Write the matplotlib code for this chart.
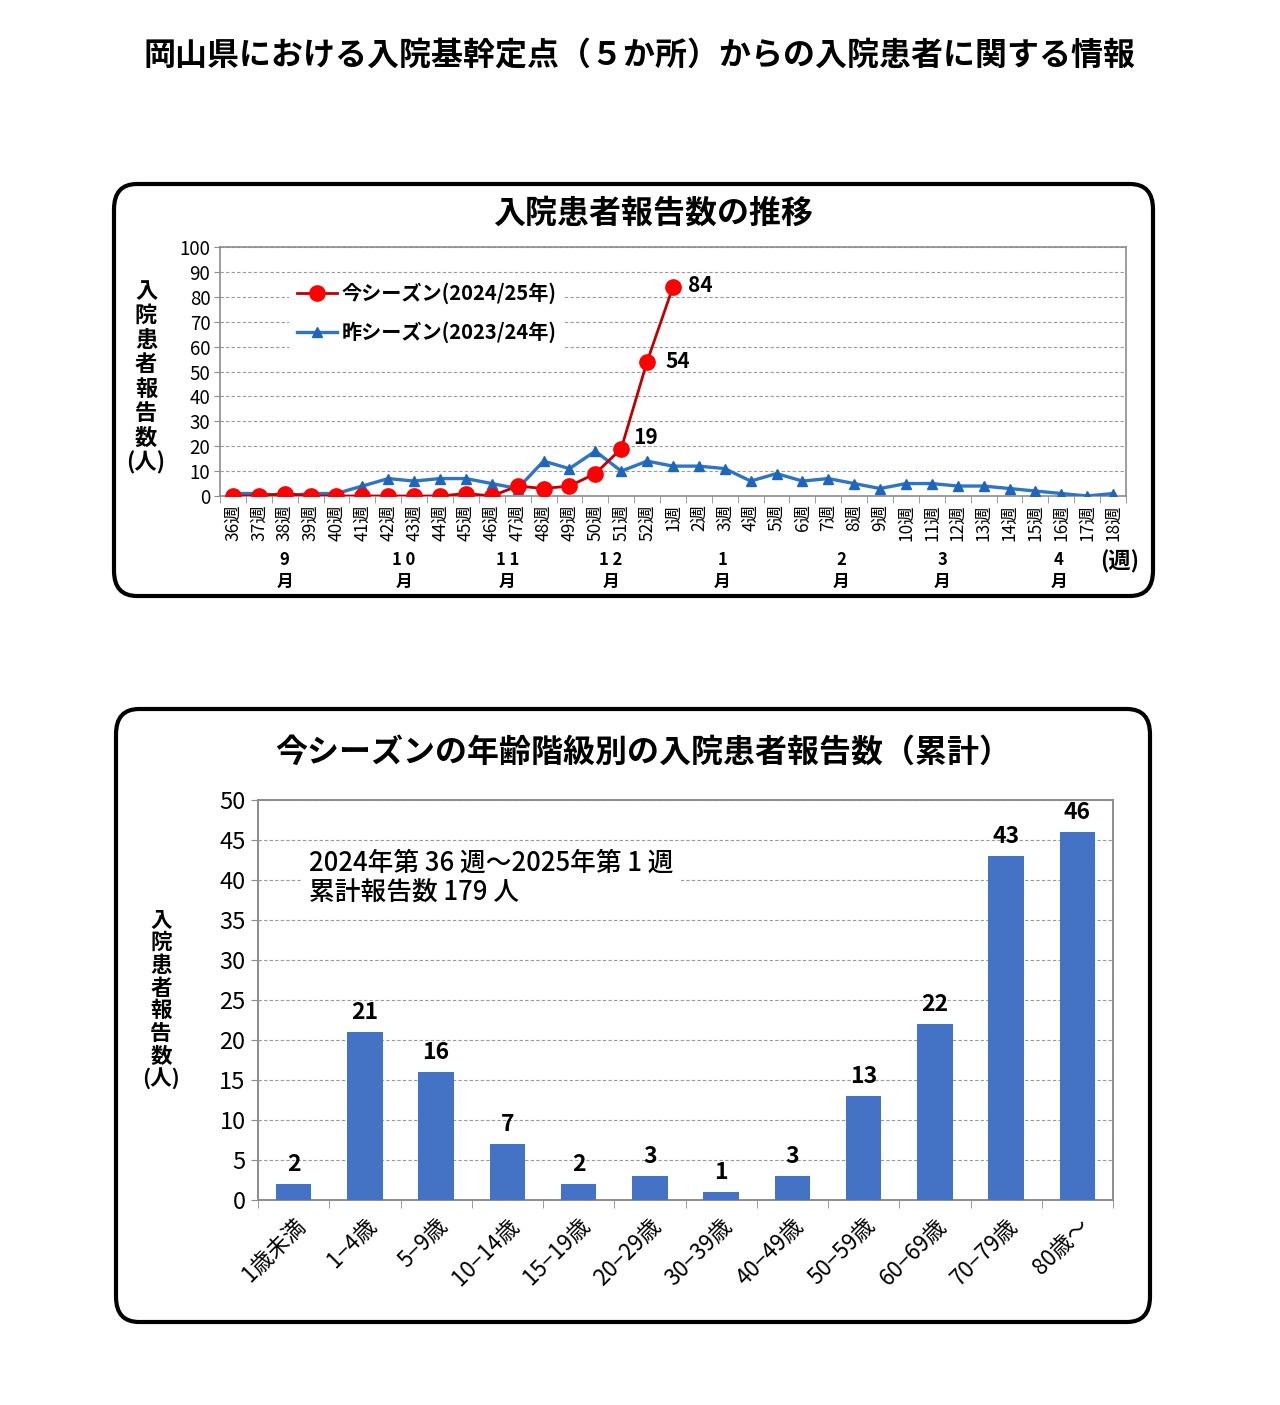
import matplotlib
matplotlib.use("Agg")
import matplotlib.pyplot as plt
from matplotlib.patches import FancyBboxPatch
from matplotlib.transforms import blended_transform_factory
import numpy as np

plt.rcParams['font.family'] = ['Noto Sans CJK JP', 'DejaVu Sans']

# ---------------- data ----------------
weeks = ["36週", "37週", "38週", "39週", "40週", "41週", "42週", "43週", "44週", "45週",
         "46週", "47週", "48週", "49週", "50週", "51週", "52週", "1週", "2週", "3週",
         "4週", "5週", "6週", "7週", "8週", "9週", "10週", "11週", "12週", "13週",
         "14週", "15週", "16週", "17週", "18週"]
current_season = [0, 0, 1, 0, 0, 0, 0, 0, 0, 1, 0, 4, 3, 4, 9, 19, 54, 84]
previous_season = [1, 1, 0, 1, 1, 4, 7, 6, 7, 7, 5, 3, 14, 11, 18, 10, 14, 12, 12, 11,
                   6, 9, 6, 7, 5, 3, 5, 5, 4, 4, 3, 2, 1, 0, 1]
labelled_points = ["51週", "52週", "1週"]
months = ["9\n月", "1 0\n月", "1 1\n月", "1 2\n月", "1\n月", "2\n月", "3\n月", "4\n月"]
month_pos = [2.0, 6.6, 10.6, 14.6, 18.9, 23.5, 27.4, 31.9]

age_groups = ["1歳未満", "1−4歳", "5−9歳", "10−14歳", "15−19歳", "20−29歳",
              "30−39歳", "40−49歳", "50−59歳", "60−69歳", "70−79歳", "80歳～"]
age_counts = [2, 21, 16, 7, 2, 3, 1, 3, 13, 22, 43, 46]

# label offsets (points) for annotated values
label_offsets = [(9, 8), (13, 0), (11, 1)]

W, H = 1280, 1405
fig = plt.figure(figsize=(W / 100, H / 100), dpi=100)
fig.patch.set_facecolor("white")


def rect(x0, y0, x1, y1):
    return [x0 / W, 1 - y1 / H, (x1 - x0) / W, (y1 - y0) / H]


def fx(x):
    return x / W


def fy(y):
    return 1 - y / H


# main title
fig.text(fx(640), fy(56), "岡山県における入院基幹定点（５か所）からの入院患者に関する情報",
         ha="center", va="center", fontsize=23, fontweight="bold")

# rounded boxes
for (x0, y0, x1, y1) in [(114, 184, 1153, 596), (116, 709, 1150, 1322)]:
    box = FancyBboxPatch((fx(x0), fy(y1)), fx(x1) - fx(x0), fy(y0) - fy(y1),
                         boxstyle="round,pad=0,rounding_size=0.018",
                         transform=fig.transFigure, facecolor="white",
                         edgecolor="black", linewidth=3, zorder=-10)
    fig.patches.append(box)

GRID = "#9a9a9a"
SPINE = "#8c8c8c"

# ---------------- top chart ----------------
fig.text(fx(653), fy(214), "入院患者報告数の推移", ha="center", va="center",
         fontsize=23, fontweight="bold")

ax1 = fig.add_axes(rect(220, 247, 1126, 496))
ax1.patch.set_alpha(0)
x_all = np.arange(len(weeks))
x_cur = np.arange(len(current_season))
ax1.plot(x_all, previous_season, color="#2E75C8", lw=2.4, marker="^", ms=7.5,
         markeredgecolor="#1F66BA", markerfacecolor="#1F66BA", zorder=3,
         label="昨シーズン(2023/24年)")
ax1.plot(x_cur, current_season, color="#C00000", lw=2.0, marker="o", ms=11,
         markeredgecolor="#FF0000", markerfacecolor="#FF0000", zorder=4,
         label="今シーズン(2024/25年)")
for w, off in zip(labelled_points, label_offsets):
    i = weeks.index(w)
    ax1.annotate(str(current_season[i]), (i, current_season[i]), xytext=off,
                 textcoords="offset points", ha="left", va="center",
                 fontsize=15, fontweight="bold")

ax1.set_xlim(-0.5, len(weeks) - 0.5)
ax1.set_ylim(0, 100)
ax1.set_yticks(np.arange(0, 101, 10))
ax1.tick_params(axis="y", labelsize=13.5, length=4, color=SPINE, pad=3)
ax1.set_xticks(x_all)
ax1.set_xticklabels(weeks, rotation=90, fontsize=12.5)
ax1.tick_params(axis="x", which="major", length=0, pad=6)
ax1.set_xticks(np.arange(-0.5, len(weeks), 1), minor=True)
ax1.tick_params(axis="x", which="minor", length=5, color=SPINE)
ax1.yaxis.grid(True, linestyle=(0, (3, 2)), color=GRID, lw=0.8)
ax1.set_axisbelow(True)
for s in ax1.spines.values():
    s.set_color(SPINE)
    s.set_linewidth(1.2)

handles, labels = ax1.get_legend_handles_labels()
leg = ax1.legend(handles[::-1], labels[::-1], loc="upper left",
                 bbox_to_anchor=(0.065, 0.93), frameon=True, fancybox=False,
                 facecolor="white", edgecolor="none", framealpha=1,
                 fontsize=14.5, labelspacing=0.85, handlelength=2.0,
                 handletextpad=0.2, borderpad=0.4)
for t in leg.get_texts():
    t.set_fontweight("bold")

trans = blended_transform_factory(ax1.transData, fig.transFigure)
for m, p in zip(months, month_pos):
    ax1.text(p, fy(571), m, transform=trans, ha="center", va="center",
             fontsize=12, fontweight="bold", linespacing=1.3)
fig.text(fx(1120), fy(562), "(週)", ha="center", va="center", fontsize=16,
         fontweight="bold")
fig.text(fx(146), fy(377), "\n".join("入院患者報告数") + "\n(人)", ha="center",
         va="center", fontsize=16, fontweight="bold", linespacing=1.08)

# ---------------- bottom chart ----------------
fig.text(fx(643), fy(753), "今シーズンの年齢階級別の入院患者報告数（累計）",
         ha="center", va="center", fontsize=23, fontweight="bold")

ax2 = fig.add_axes(rect(258, 800, 1113, 1200))
ax2.patch.set_alpha(0)
xb = np.arange(len(age_groups))
ax2.bar(xb, age_counts, width=0.5, color="#4472C4", zorder=3)
for i, v in enumerate(age_counts):
    ax2.text(i, v + 1.0, str(v), ha="center", va="bottom", fontsize=16.5,
             fontweight="bold")
ax2.set_xlim(-0.5, len(age_groups) - 0.5)
ax2.set_ylim(0, 50)
ax2.set_yticks(np.arange(0, 51, 5))
ax2.tick_params(axis="y", labelsize=17, length=5, color=SPINE, pad=4)
ax2.set_xticks(xb)
ax2.set_xticklabels(age_groups, rotation=45, ha="right", rotation_mode="anchor",
                    fontsize=16)
ax2.tick_params(axis="x", which="major", length=0, pad=10)
ax2.set_xticks(np.arange(-0.5, len(age_groups), 1), minor=True)
ax2.tick_params(axis="x", which="minor", length=6, color=SPINE)
ax2.yaxis.grid(True, linestyle=(0, (3, 2)), color=GRID, lw=0.8)
ax2.set_axisbelow(True)
for s in ax2.spines.values():
    s.set_color(SPINE)
    s.set_linewidth(1.4)

ax2.text(0.06, 0.875, "2024年第 36 週～2025年第 1 週\n累計報告数 179 人",
         transform=ax2.transAxes, ha="left", va="top", fontsize=18.5,
         fontweight="medium", linespacing=1.15, zorder=5,
         bbox=dict(facecolor="white", edgecolor="none", pad=5))
fig.text(fx(161), fy(1000), "\n".join("入院患者報告数") + "\n(人)", ha="center",
         va="center", fontsize=15.5, fontweight="bold", linespacing=1.1)

fig.savefig("out.png", dpi=100, facecolor="white")
